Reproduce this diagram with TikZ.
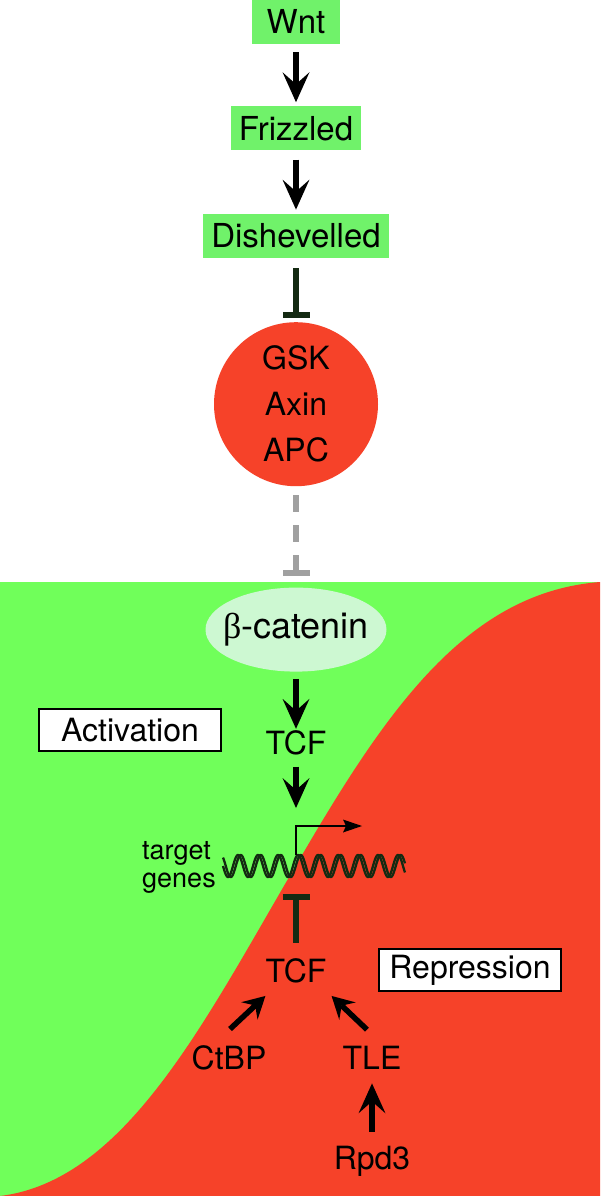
\documentclass[tikz,border=0pt]{standalone}
\usepackage{fontspec}
\setmainfont{TeX Gyre Heros}
\newfontfamily\greekfont{Liberation Serif}
\usetikzlibrary{arrows.meta, positioning, shapes.geometric}
\definecolor{cBright}{RGB}{112,255,90}
\definecolor{cBox}{RGB}{112,242,106}
\definecolor{cRed}{RGB}{246,66,41}
\definecolor{cPale}{RGB}{205,248,210}
\definecolor{cDark}{RGB}{20,42,18}
\definecolor{cGrey}{RGB}{160,160,160}
\tikzset{
	gbox/.style     ={rectangle, fill=cBox, minimum height=44pt, inner xsep=8pt, inner ysep=0pt, font=\fontsize{33}{38}\selectfont},
	lbox/.style     ={rectangle, draw=black, line width=1.5pt, fill=white, minimum width=182pt, minimum height=42pt, inner sep=0pt},
	lbl/.style      ={inner sep=0pt},
	act/.style      ={-{Stealth[length=30pt, width=27pt, inset=12pt, line width=0pt]}, line width=5.5pt},
	actsm/.style    ={-{Stealth[length=22pt, width=24pt, inset=8pt, line width=0pt]}, line width=5.5pt},
	% inhibition and promoter styles
	inhib/.style    ={-{Bar[width=27pt, line width=6pt]}, line width=6pt, draw=cDark},
	inhibdash/.style={-{Bar[width=27pt, line width=6pt]}, line width=6pt, draw=cGrey, dash pattern=on 17pt off 13pt},
	prom/.style     ={-{Stealth[length=19pt, width=13pt, inset=3pt, line width=0pt]}, line width=2pt},
	helix/.style    ={line width=2.3pt, draw=cDark},
}
\begin{document}
\begin{tikzpicture}[x=1pt, y=-1pt, font=\fontsize{32}{38}\selectfont]
			\useasboundingbox (0,0) rectangle (600,1196);
			\fill[white] (0,0) rectangle (600,1196);
			% nucleus background
			\fill[cBright] (0,582) rectangle (600,1196);
			\fill[cRed] (0,1196) .. controls (130,1180) and (210,1010) .. (305,850)
				.. controls (390,705) and (470,592) .. (600,582) -- (600,1196) -- cycle;
			% cytoplasm
			\node[gbox, minimum width=88pt] (wnt) at (296,22) {Wnt};
			\node[gbox, below=62pt of wnt] (frz) {Frizzled};
			\node[gbox, below=63pt of frz] (dsh) {Dishevelled};
			\node[circle, fill=cRed, minimum size=164pt, inner sep=0pt, align=center, font=\fontsize{32}{46}\selectfont, below=64pt of dsh] (gsk) {GSK\\Axin\\APC};
			\node[ellipse, fill=cPale, minimum width=181pt, minimum height=84pt, inner xsep=-10pt, inner ysep=0pt, font=\fontsize{36}{40}\selectfont, below=101pt of gsk] (bcat) {{\greekfont β}-catenin};
			% nucleus
			\node[lbl, below=59pt of bcat] (tcfa) {TCF};
			\coordinate (dna) at (296,866);
			\node[lbl, anchor=west, align=left, font=\fontsize{27}{28}\selectfont] (genes) at (142,867) {target\\genes};
			\node[lbl] (tcfb) at (296,971) {TCF};
			\node[lbl] (ctbp) at (229,1058) {CtBP};
			\node[lbl] (tle) at (372,1058) {TLE};
			\node[lbl, below=76pt of tle] (rpd) {Rpd3};
			\node[lbox] (actv) at (130,730) {Activation};
			\node[lbox] (repr) at (470,970) {Repression};
			\draw[helix] plot[domain=223:405, samples=400] (\x, {866+11*sin(18*(\x-223))});
			\draw[helix] plot[domain=223:405, samples=400] (\x, {866+11*sin(18*(\x-223)-50)});
			\coordinate (tss) at (296,855);
			\coordinate (tssend) at (362,826);
			\draw[prom] (tss) |- (tssend);
			\draw[act, shorten <=8pt, shorten >=4pt] (wnt) -- (frz);
			\draw[act, shorten <=9pt, shorten >=4pt] (frz) -- (dsh);
			\draw[inhib, shorten <=10pt, shorten >=4pt] (dsh) -- (gsk);
			\draw[inhibdash, shorten <=9pt, shorten >=11pt] (gsk) -- (bcat);
			\draw[act, shorten <=7pt, shorten >=2pt] (bcat) -- (tcfa);
			\draw[act, shorten <=11pt, shorten >=58pt] (tcfa) -- (dna);
			\draw[inhib, shorten <=16pt, shorten >=28pt] (tcfb) -- (dna);
			\draw[actsm] ([shift={(1pt,16.5pt)}]ctbp.north) -- ([shift={(0pt,-12.5pt)}]tcfb.south west);
			\draw[actsm] ([shift={(-5pt,16.5pt)}]tle.north) -- ([shift={(5pt,-12.5pt)}]tcfb.south east);
			\draw[act, shorten <=14pt, shorten >=13.5pt] (rpd) -- (tle);
		\end{tikzpicture}
\end{document}
